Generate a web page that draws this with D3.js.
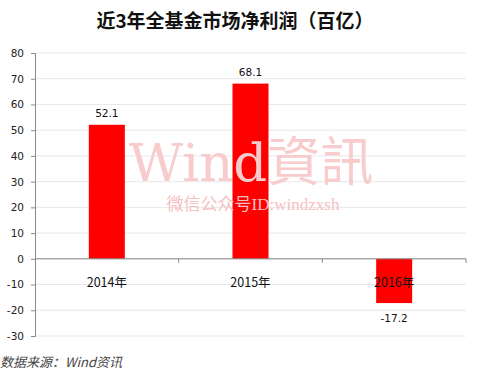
<!DOCTYPE html>
<html>
<head>
<meta charset="utf-8">
<script src="https://cdn.jsdelivr.net/npm/d3@7"></script>
<style>
  body { margin: 0; background: #fff; }
  svg { display: block; }
</style>
</head>
<body>
<svg id="chart" width="482" height="378"></svg>
<script>
const categories = ['2014年', '2015年', '2016年'];
const netProfit = [52.1, 68.1, -17.2];
const yTicks = [-30, -20, -10, 0, 10, 20, 30, 40, 50, 60, 70, 80];

const svg = d3.select('#chart');
const margin = { left: 35, right: 16, top: 53, bottom: 42 };
const width = 482 - margin.left - margin.right;
const height = 378 - margin.top - margin.bottom;

svg.append('text')
  .attr('x', 235).attr('y', 28)
  .attr('text-anchor', 'middle')
  .style('font-family', '"Noto Sans CJK SC", sans-serif')
  .style('font-size', '19px').style('font-weight', 'bold')
  .attr('fill', '#111')
  .text('近3年全基金市场净利润（百亿）');

const g = svg.append('g').attr('transform', `translate(${margin.left},${margin.top})`);

const x = d3.scaleBand().domain(categories).range([0, width]);
const y = d3.scaleLinear().domain([-30, 80]).range([height, 0]);

// gridlines
g.selectAll('.grid').data(yTicks).enter().append('line')
  .attr('x1', 0).attr('x2', width)
  .attr('y1', d => y(d)).attr('y2', d => y(d))
  .attr('stroke', '#e8e8e8');

// watermark (behind bars)
svg.append('text')
  .attr('x', 251).attr('y', 181)
  .attr('text-anchor', 'middle')
  .style('font-family', '"DejaVu Serif", "Noto Sans CJK TC", serif')
  .style('font-size', '53px')
  .attr('fill', '#f8cccc')
  .text('Wind資訊');
svg.append('text')
  .attr('x', 253).attr('y', 210)
  .attr('text-anchor', 'middle')
  .style('font-family', '"Liberation Serif", "Noto Sans CJK SC", serif')
  .style('font-size', '17px')
  .attr('fill', '#f6c0c0')
  .text('微信公众号ID:windzxsh');

// y axis
const yAxis = g.append('g')
  .call(d3.axisLeft(y).tickValues(yTicks).tickFormat(d => String(d)).tickSize(4).tickPadding(7));
yAxis.select('.domain').attr('stroke', '#888');
yAxis.selectAll('.tick line').attr('stroke', '#888');
yAxis.selectAll('text')
  .style('font-family', '"DejaVu Sans", sans-serif')
  .style('font-size', '10.5px').attr('fill', '#222');

// bars
const barW = 36;
g.selectAll('.bar').data(netProfit).enter().append('rect')
  .attr('x', (d, i) => x(categories[i]) + x.bandwidth() / 2 - barW / 2)
  .attr('y', d => y(Math.max(0, d)))
  .attr('width', barW)
  .attr('height', d => Math.abs(y(d) - y(0)))
  .attr('fill', '#ff0000');

// zero axis with category ticks
g.append('line')
  .attr('x1', 0).attr('x2', width)
  .attr('y1', y(0)).attr('y2', y(0))
  .attr('stroke', '#888');
g.selectAll('.ctick').data(categories).enter().append('line')
  .attr('x1', d => x(d) + x.bandwidth()).attr('x2', d => x(d) + x.bandwidth())
  .attr('y1', y(0)).attr('y2', y(0) + 4)
  .attr('stroke', '#888');

g.selectAll('.clabel').data(categories).enter().append('text')
  .attr('x', d => x(d) + x.bandwidth() / 2)
  .attr('y', y(0) + 28)
  .attr('text-anchor', 'middle')
  .style('font-family', '"Noto Sans CJK SC", sans-serif')
  .style('font-size', '12.5px').attr('fill', '#111')
  .text(d => d);

// value labels
g.selectAll('.vlabel').data(netProfit).enter().append('text')
  .attr('x', (d, i) => x(categories[i]) + x.bandwidth() / 2)
  .attr('y', d => d >= 0 ? y(d) - 8 : y(d) + 19)
  .attr('text-anchor', 'middle')
  .style('font-family', '"DejaVu Sans", sans-serif')
  .style('font-size', '10.5px').attr('fill', '#111')
  .text(d => d.toFixed(1));

// source
svg.append('text')
  .attr('x', 0).attr('y', 367)
  .style('font-family', '"Noto Sans CJK SC", sans-serif')
  .style('font-size', '13px').style('font-style', 'italic')
  .attr('fill', '#444')
  .text('数据来源：Wind资讯');
</script>
</body>
</html>
